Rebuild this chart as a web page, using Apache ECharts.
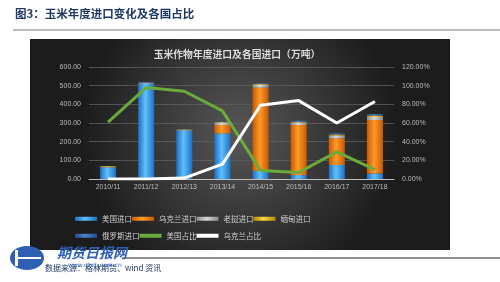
<!DOCTYPE html>
<html><head><meta charset="utf-8">
<script src="https://cdn.jsdelivr.net/npm/echarts@6/dist/echarts.min.js"></script>
<style>html,body{margin:0;padding:0;background:#fff;}#c{width:500px;height:282px;}</style>
</head><body><div id="c"></div>
<script>
const categories = ['2010/11','2011/12','2012/13','2013/14','2014/15','2015/16','2016/17','2017/18'];
const usImport = [62, 511, 260, 244, 44, 21, 75, 30];
const ukraineImport = [0, 0, 0, 45, 446, 268, 143, 286];
const laosImport = [3, 3, 3, 14, 15, 14, 14, 16];
const myanmarImport = [4, 2, 2, 2, 4, 4, 6, 8];
const russiaImport = [0, 4, 1, 1, 3, 5, 6, 8];
const usShare = [0.61, 0.98, 0.94, 0.73, 0.09, 0.07, 0.29, 0.10];
const ukraineShare = [0.0, 0.0, 0.01, 0.16, 0.79, 0.84, 0.60, 0.83];
const leftTicks = [0, 100, 200, 300, 400, 500, 600];

function grad(dark, light) {
  return new echarts.graphic.LinearGradient(0, 0, 1, 0, [
    {offset: 0, color: dark}, {offset: 0.45, color: light}, {offset: 1, color: dark}
  ]);
}
const chart = echarts.init(document.getElementById('c'));
const barW = 16;
function bar(name, data, dark, light) {
  return {name, type: 'bar', stack: 'imp', data, barWidth: barW, yAxisIndex: 0,
    itemStyle: {color: grad(dark, light)}};
}
const legendText = {color: '#d0d0d0', fontSize: 7.5, width: 64, fontFamily: 'Noto Sans CJK SC'};
chart.setOption({
  animation: false,
  graphic: [
    {type: 'text', left: 15, top: 8, z: 10, style: {text: '图3：玉米年度进口变化及各国占比', fill: '#1f3864', font: 'bold 11.5px "Noto Sans CJK SC"'}},
    {type: 'line', z: 10, shape: {x1: 13, y1: 30, x2: 500, y2: 30}, style: {stroke: '#777', lineWidth: 1}},
    {type: 'rect', z: -10, shape: {x: 30, y: 39, width: 420, height: 211},
      style: {fill: new echarts.graphic.RadialGradient(0.5, 0.45, 0.75, [
        {offset: 0, color: '#575757'}, {offset: 1, color: '#1c1c1c'}])}},
    {type: 'text', z: 10, x: 237, y: 49, style: {text: '玉米作物年度进口及各国进口（万吨）', fill: '#dcdcdc', font: 'bold 9.8px "Noto Sans CJK SC"', textAlign: 'center'}},
    {type: 'line', z: 10, shape: {x1: 125, y1: 258, x2: 500, y2: 258}, style: {stroke: '#222', lineWidth: 1}},
    {type: 'ellipse', z: 10, shape: {cx: 27, cy: 258, rx: 17, ry: 12}, style: {fill: '#2f5fb3'}},
    {type: 'rect', z: 11, shape: {x: 15, y: 250, width: 3, height: 16}, style: {fill: '#fff'}},
    {type: 'rect', z: 11, shape: {x: 15, y: 257, width: 26, height: 2}, style: {fill: '#fff'}},
    {type: 'text', z: 10, x: 57, y: 246, style: {text: '期货日报网', fill: '#2f5fb3', font: 'italic bold 14px "Noto Sans CJK SC"'}},
    {type: 'text', z: 10, x: 45, y: 264, style: {text: '数据来源：格林期货、wind 资讯', fill: '#1f3864', font: '8px "Noto Sans CJK SC"'}},
    {type: 'text', z: 12, x: 68, y: 262, style: {text: 'www.qhrb.com.cn', fill: '#2f5fb3', font: '6px "DejaVu Sans"'}}
  ],
  grid: {left: 89, right: 106, top: 67, bottom: 103},
  legend: [
    {left: 70, top: 210, itemWidth: 22, itemHeight: 4, itemGap: 0, icon: 'rect',
     textStyle: legendText, data: ['美国进口','乌克兰进口','老挝进口','缅甸进口']},
    {left: 70, top: 227, itemWidth: 22, itemHeight: 4, itemGap: 0, icon: 'rect',
     textStyle: legendText, data: ['俄罗斯进口','美国占比','乌克兰占比']}
  ],
  xAxis: {type: 'category', data: categories,
    axisLine: {lineStyle: {color: '#bfbfbf'}}, axisTick: {show: false},
    axisLabel: {color: '#bbb', fontSize: 7, margin: 5}},
  yAxis: [
    {type: 'value', min: 0, max: 600, interval: 100,
     axisLabel: {color: '#bbb', fontSize: 7, formatter: v => v.toFixed(2)},
     axisLine: {show: false}, axisTick: {show: false},
     splitLine: {lineStyle: {color: '#5e5e5e', width: 0.8}}},
    {type: 'value', min: 0, max: 1.2, interval: 0.2,
     axisLabel: {color: '#bbb', fontSize: 7, formatter: v => (v * 100).toFixed(2) + '%'},
     axisLine: {show: false}, axisTick: {show: false}, splitLine: {show: false}}
  ],
  series: [
    bar('美国进口', usImport, '#1f6fbf', '#5fc0ff'),
    bar('乌克兰进口', ukraineImport, '#c85a00', '#ff9a2a'),
    bar('老挝进口', laosImport, '#8a8a8a', '#d8d8d8'),
    bar('缅甸进口', myanmarImport, '#b08a00', '#ffd640'),
    bar('俄罗斯进口', russiaImport, '#244f90', '#4a80d0'),
    {name: '美国占比', type: 'line', yAxisIndex: 1, data: usShare, symbol: 'none',
     lineStyle: {color: '#6aab3a', width: 3}, itemStyle: {color: '#6aab3a'}, z: 5},
    {name: '乌克兰占比', type: 'line', yAxisIndex: 1, data: ukraineShare, symbol: 'none',
     lineStyle: {color: '#ffffff', width: 3}, itemStyle: {color: '#ffffff'}, z: 5}
  ]
});
</script></body></html>
